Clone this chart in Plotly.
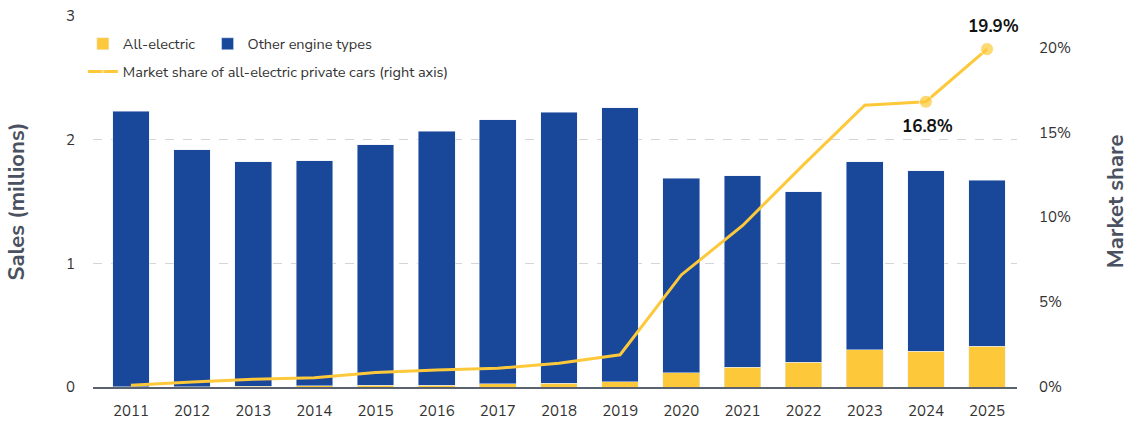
import plotly.graph_objects as go

years = [str(y) for y in range(2011, 2026)]
total_sales = [2.23, 1.92, 1.82, 1.83, 1.96, 2.07, 2.16, 2.22, 2.26, 1.69, 1.71, 1.58, 1.82, 1.75, 1.67]
electric_sales = [0.001, 0.003, 0.008, 0.009, 0.015, 0.016, 0.027, 0.031, 0.042, 0.115, 0.16, 0.20, 0.30, 0.29, 0.33]
other_sales = [round(t - e, 3) for t, e in zip(total_sales, electric_sales)]
market_share = [0.1, 0.3, 0.45, 0.55, 0.85, 1.0, 1.1, 1.4, 1.9, 6.6, 9.5, 13.1, 16.6, 16.8, 19.9]
share_labels = {13: "16.8%", 14: "19.9%"}

BLUE = "#19479A"
YELLOW = "#FDC93A"
FONT = "Nunito Sans, Lato, Open Sans, sans-serif"

fig = go.Figure()
fig.add_bar(x=years, y=electric_sales, name="All-electric", marker_color=YELLOW,
            width=0.6, legend="legend", showlegend=True)
fig.add_bar(x=years, y=other_sales, name="Other engine types", marker_color=BLUE,
            width=0.6, legend="legend2", showlegend=True)
marker_sizes = [0] * 13 + [13, 13]
fig.add_scatter(x=years, y=market_share, yaxis="y2", mode="lines+markers",
                name="Market share of all-electric private cars (right axis)",
                line=dict(color=YELLOW, width=3),
                marker=dict(size=marker_sizes, color=YELLOW),
                legend="legend3", showlegend=True)

fig.add_annotation(xref="x", yref="y2", x=14, y=market_share[14], text="<b>" + share_labels[14] + "</b>",
                   showarrow=False, yshift=23, xshift=6, font=dict(size=17, color="#111111", family=FONT))
fig.add_annotation(xref="x", yref="y2", x=13, y=market_share[13], text="<b>" + share_labels[13] + "</b>",
                   showarrow=False, yshift=-25, xshift=2, font=dict(size=17, color="#111111", family=FONT))

leg_common = dict(orientation="h", xanchor="left", yanchor="middle", visible=True,
                  bgcolor="rgba(0,0,0,0)", font=dict(size=14.5, color="#333333"))

fig.update_layout(
    width=1131, height=421,
    barmode="stack",
    showlegend=True,
    plot_bgcolor="white", paper_bgcolor="white",
    margin=dict(l=93, r=114, t=16, b=34, autoexpand=False),
    font=dict(family=FONT, size=15, color="#333333"),
    xaxis=dict(type="category", range=[-0.62, 14.49], showgrid=False, automargin=False,
               showline=True, linecolor="#5A6270", linewidth=1.5, ticks="",
               ticklabelstandoff=9,
               tickfont=dict(size=15, color="#333333")),
    yaxis=dict(range=[0, 3], tickvals=[0, 1, 2, 3], showgrid=True, automargin=False,
               gridcolor="#D5D5D5", griddash="dash", gridwidth=1, zeroline=False,
               ticklabelstandoff=17,
               title=dict(text="<b>Sales (millions)</b>", font=dict(size=22, color="#4A5160"), standoff=35),
               tickfont=dict(size=15, color="#333333")),
    yaxis2=dict(overlaying="y", side="right", range=[0, 21.85], tickvals=[0, 5, 10, 15, 20],
                ticktext=["0%", "5%", "10%", "15%", "20%"], showgrid=False, zeroline=False,
                ticklabelstandoff=21, automargin=False,
                title=dict(text="<b>Market share</b>", font=dict(size=22, color="#4A5160"), standoff=40),
                tickfont=dict(size=15, color="#333333")),
    legend=dict(x=-0.011, y=0.925, **leg_common),
    legend2=dict(x=0.124, y=0.925, **leg_common),
    legend3=dict(x=-0.011, y=0.85, **leg_common),
)

fig.write_html("out.html", config={"displayModeBar": False},
               post_script="document.body.style.margin='0';")
